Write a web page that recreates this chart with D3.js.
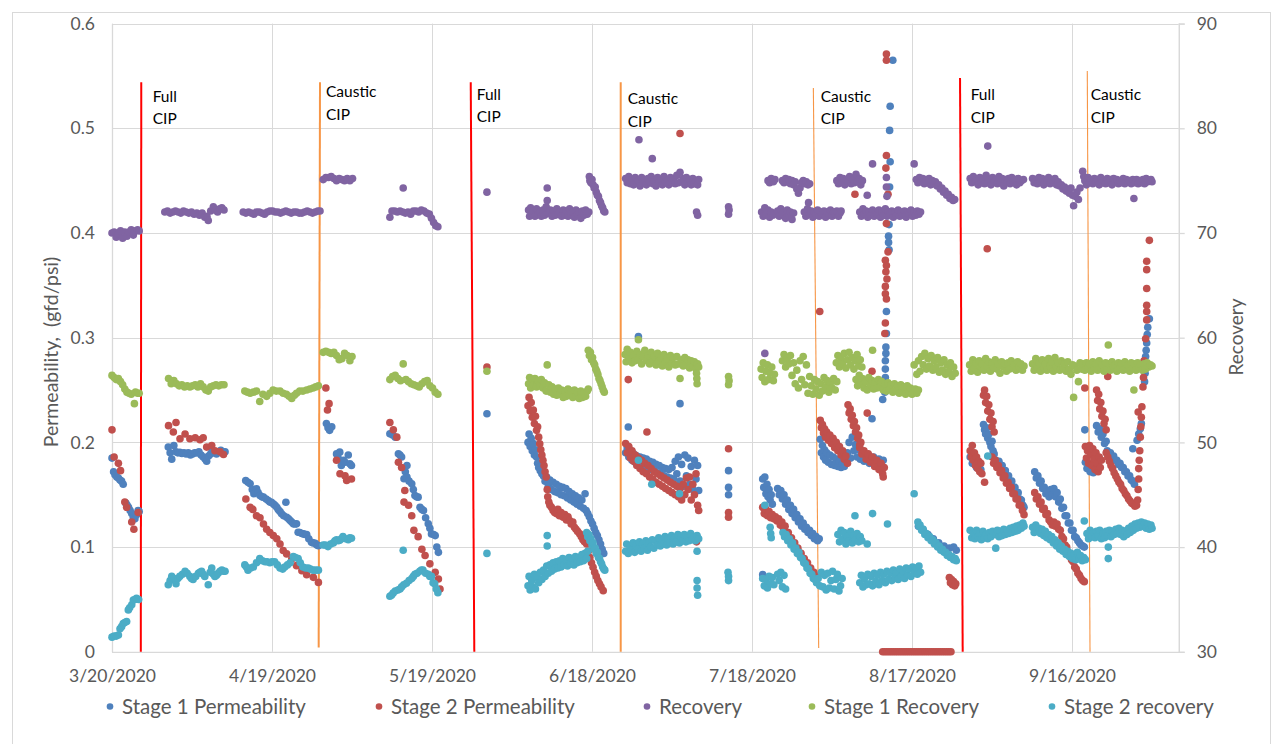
<!DOCTYPE html>
<html><head><meta charset="utf-8">
<script src="https://cdn.jsdelivr.net/npm/d3@7"></script>
<style>
body{margin:0;background:#fff;}
svg{display:block;font-family:Lato,"Open Sans",sans-serif;}
</style></head><body>
<svg id="chart" width="1272" height="744"></svg>
<script>
// ---------------- DATA ----------------
const startDate = "2020-03-20";
const endDate = "2020-10-06";
const xTickLabels = ["3/20/2020","4/19/2020","5/19/2020","6/18/2020","7/18/2020","8/17/2020","9/16/2020"];
const leftTicks = [0,0.1,0.2,0.3,0.4,0.5,0.6];
const rightTicks = [30,40,50,60,70,80,90];
const seriesNames = ["Stage 1 Permeability","Stage 2 Permeability","Recovery","Stage 1 Recovery","Stage 2 recovery"];
const seriesColors = ["#4F81BD","#C0504D","#8064A2","#9BBB59","#4BACC6"];
const leftTitle = "Permeability,  (gfd/psi)";
const rightTitle = "Recovery";

// [days after 3/20/2020, gfd/psi]
const stage1Permeability = [
[0,.185],[.3,.172],[.56,.169],[.9,.167],[1.2,.166],[1.5,.164],[1.8,.163],[2.1,.160],[2.6,.142],[2.85,.140],[3.1,.138],[3.4,.135],[3.7,.132],[4,.1285],[4.3,.127],[4.6,.131],[4.9,.135],[5.1,.134],
[10.55,.1955],[10.9,.190],[11.2,.184],[11.6,.197],[12,.191],[12.35,.190],[12.7,.1905],[13.1,.1895],[13.5,.190],[13.9,.189],[14.3,.190],[14.7,.188],[15.1,.189],[15.5,.190],[15.9,.190],[16.3,.191],[16.7,.188],[17.1,.186],[17.5,.184],[17.75,.182],[18.1,.187],[18.5,.189],[18.8,.192],[19.2,.1905],[19.6,.189],[20,.191],[20.4,.1925],[20.8,.191],[21.2,.191],
[25.07,.1636],[25.5,.162],[25.9,.1605],[26.3,.155],[26.6,.151],[27.1,.1557],[27.4,.152],[27.75,.1493],[28.1,.148],[28.4,.1477],[28.9,.146],[29.3,.1445],[29.6,.143],[29.9,.1429],[30.3,.141],[30.6,.1397],[30.9,.138],[31.2,.1356],[31.5,.134],[31.8,.1318],[32.2,.130],[32.6,.1429],[32.75,.1285],[33.1,.127],[33.4,.1254],[33.7,.124],[34,.1222],[34.3,.122],[34.6,.1222],[34.9,.1142],[35.2,.114],[35.6,.113],[35.9,.1126],[36.2,.112],[36.5,.112],[36.9,.108],[37.4,.1046],[37.7,.104],[38.1,.1037],[38.4,.102],[38.7,.1014],
[40.2,.218],[40.5,.214],[40.8,.2115],[41.2,.215],[42.1,.189],[42.4,.185],[42.7,.1907],[43,.178],[43.4,.183],[43.7,.181],[44.3,.188],[44.6,.1796],[44.9,.178],
[52.1,.2083],[52.6,.207],[53.1,.205],[53.7,.1892],[54,.188],[54.3,.186],[54.75,.1653],[55,.172],[55.3,.178],[55.3,.1668],[55.7,.163],[56.2,.1605],[56.5,.155],[56.8,.1493],[57.1,.148],[57.4,.1477],[57.75,.1381],[58.1,.136],[58.4,.1349],[58.8,.128],[59.3,.1222],[59.6,.118],[59.9,.1126],[60.3,.112],[60.6,.111],[60.9,.100],[61.2,.095],
[70.3,.2274],
[78,.200],[78.2,.208],[78.4,.196],[78.6,.204],[78.8,.192],[79,.199],[79.2,.188],[79.4,.193],[79.6,.186],[79.8,.180],[80,.176],[80.3,.173],[80.6,.170],[80.9,.168],[81.2,.163],[81.5,.167],[81.8,.158],[82.1,.164],[82.4,.155],[82.7,.162],[83,.153],[83.3,.160],[83.6,.152],[83.9,.158],[84.2,.150],[84.5,.157],[84.8,.149],[85.1,.156],[85.4,.147],[85.7,.153],[86,.145],[86.3,.151],[86.6,.143],[86.9,.149],[87.2,.141],[87.5,.147],[87.8,.139],[88.1,.145],[88.4,.137],[88.7,.151],[88.9,.135],[89.2,.132],[89.5,.129],[89.8,.125],[90.1,.122],[90.4,.118],[90.7,.114],[91,.111],[91.3,.107],[91.6,.103],[91.9,.098],[92.2,.094],
[96.8,.2147],[96.3,.190],[96.6,.195],[96.9,.186],[97.2,.192],[97.5,.183],[97.8,.189],[98.1,.181],[98.4,.187],[98.7,.180],[98.7,.301],[99,.186],[99.3,.178],[99.6,.185],[99.9,.177],[100.2,.184],[100.5,.176],[100.8,.182],[101.1,.174],[101.4,.181],[101.7,.173],[102,.179],[102.3,.171],[102.6,.178],[102.9,.170],[103.2,.176],[103.5,.168],[103.8,.175],[104.1,.167],[104.4,.174],[104.7,.166],[105,.176],[105.3,.165],[105.6,.182],[105.9,.170],[106.2,.186],[106.5,.163],[106.5,.237],[106.8,.179],[107.1,.158],[107.4,.188],[107.7,.168],[108,.185],[108.3,.160],[108.6,.177],[108.9,.155],[109.2,.183],[109.5,.165],[109.8,.178],[110,.154],
[115.6,.173],[115.6,.157],[115.6,.150],
[122,.0737],[122,.165],[122.2,.157],[122.4,.167],[122.6,.151],[122.8,.160],[123,.148],[123.2,.155],[123.4,.145],[123.6,.150],[123.8,.141],
[124.8,.156],[125.1,.150],[125.4,.154],[125.7,.146],[126,.150],[126.3,.141],[126.6,.145],[126.9,.136],[127.2,.140],[127.5,.132],[127.8,.136],[128.1,.128],[128.4,.131],[128.7,.124],[129,.127],[129.3,.120],[129.6,.123],[129.9,.117],[130.2,.119],[130.5,.114],[130.8,.116],[131.1,.111],[131.4,.113],[131.7,.108],[132,.110],[132.3,.106],[132.6,.108],
[132.8,.203],[133,.190],[133.2,.197],[133.4,.186],[133.6,.193],[133.8,.183],[134,.190],[134.3,.181],[134.6,.188],[134.9,.179],[135.2,.186],[135.5,.178],[135.8,.184],[136.1,.177],[136.4,.182],[136.7,.176],[137,.180],[137.3,.177],[137.6,.183],[137.9,.190],[138.2,.200],[138.5,.185],[138.8,.205],[139.1,.192],[139.4,.198],[139.7,.186],[140,.193],[140.3,.184],[140.6,.190],[141,.182],[141.5,.188],[142,.180],[142.5,.2226],[142.8,.186],[143.3,.178],[143.8,.184],[144.3,.175],[144.6,.183],
[146.4,.565],[145.9,.521],[145.8,.498],[145.9,.468],[145.8,.444],[145.7,.408],[145.6,.397],[145.6,.391],[145.7,.384],[145.2,.325],[145.2,.304],[145.1,.291],[145.1,.285],[145,.278],[145,.270],[145,.262],[144.9,.255],[144.9,.248],[144.5,.241],
[151.2,.120],[152,.117],[153,.112],[154,.108],[155,.104],[156,.101],[157,.099],[157.8,.100],[158.3,.097],
[160.9,.186],[161.3,.180],[161.7,.184],[162.1,.176],[162.5,.180],[162.9,.174],
[163.4,.217],[163.6,.212],[163.8,.208],[164,.214],[164.2,.204],[164.4,.208],[164.6,.200],[164.8,.196],[165,.201],[165.2,.192],[165.4,.189],
[165.7,.183],[166,.180],[166.3,.182],[166.6,.176],[166.9,.178],[167.2,.172],[167.5,.173],[167.8,.167],[168.1,.168],[168.4,.162],[168.7,.163],[169,.157],[169.3,.157],[169.6,.151],[169.9,.152],[170.2,.146],[170.5,.145],[170.8,.140],[171,.138],
[173,.172],[173.3,.166],[173.6,.168],[173.9,.161],[174.2,.163],[174.5,.156],[174.8,.157],[175.1,.151],[175.4,.153],[175.7,.148],[176,.155],[176.3,.150],[176.6,.156],[176.9,.148],[177.2,.152],[177.5,.143],[177.8,.146],[178.1,.137],[178.4,.138],[178.7,.130],[179,.130],[179.3,.123],[179.6,.123],[179.9,.116],[180.2,.116],[180.5,.110],[180.8,.109],[181.1,.106],[181.4,.104],[181.7,.102],[182,.101],[182.3,.100],[182.4,.212],
[182.5,.181],[182.8,.175],[183.1,.178],[183.4,.172],[183.7,.176],[184,.171],[184.3,.174],
[184.6,.216],[184.9,.210],[185.2,.213],[185.5,.205],[185.8,.208],[186.1,.199],[186.4,.201],
[186.6,.192],[186.9,.189],[187.2,.190],[187.5,.186],[187.8,.187],[188.1,.183],[188.4,.183],[188.7,.179],[189,.180],[189.3,.176],[189.6,.176],[189.9,.172],[190.2,.172],[190.5,.168],[190.8,.168],[191.1,.164],[191.4,.194],[191.4,.163],[191.7,.160],
[192.2,.202],[192.5,.208],[192.8,.213],[193,.218],[193.6,.258],[193.7,.266],[193.8,.274],[193.8,.282],[193.9,.288],[194,.295],[194.1,.303],[194.2,.310],[194.5,.318]
];

const stage2Permeability = [
[0,.212],[.4,.186],[1.2,.180],[1.6,.173],[2.4,.143],[2.75,.138],[3.7,.124],[4.1,.117],[4.9,.133],
[10.6,.216],[12,.219],[11.5,.210],[12.75,.2035],[13.7,.208],[14.6,.2035],[15.6,.2045],[16.5,.2026],[17.1,.2045],[17.75,.1955],[18.7,.197],[19.3,.192],[20.25,.191],[20.9,.1885],
[25.1,.146],[25.9,.138],[26.4,.136],[27.1,.130],[27.75,.128],[28.4,.122],[29,.117],[29.6,.114],[30.25,.111],[30.9,.108],[31.5,.103],[32.1,.0967],[32.75,.0935],[33.7,.0887],[34.6,.0823],[35.6,.0775],[36.5,.0737],[37.75,.0711],[38.7,.0663],
[40.1,.252],[40.7,.237],[40.4,.231],[42.1,.183],[42.75,.170],[43.7,.168],[44,.1636],[44.9,.165],
[52.1,.219],[52.75,.212],[53.4,.205],[53.7,.181],[54.3,.176],[54.9,.154],[54.75,.143],[55.6,.140],[56.2,.130],[56.6,.116],[57.4,.110],[58.1,.098],[58.7,.092],[59.6,.084],[60.6,.076],[61.2,.0696],[61.5,.060],
[70.3,.272],
[78,.235],[78.2,.243],[78.4,.230],[78.6,.238],[78.8,.224],[79,.231],[79.2,.218],[79.4,.225],[79.6,.2115],[79.8,.215],[80,.205],[80.2,.1987],[80.4,.193],[80.6,.188],[80.8,.183],[81,.178],[81.2,.172],[81.4,.167],[81.6,.155],[81.7,.148],[81.9,.143],[82.1,.140],[82.4,.138],[82.7,.135],[83,.133],[83.3,.132],[83.6,.136],[83.9,.130],[84.2,.133],[84.6,.1285],[84.9,.131],[85.2,.126],[85.5,.129],[85.8,.1254],[86.1,.122],[86.4,.124],[86.7,.119],[87,.117],[87.3,.115],[87.7,.1126],[88,.110],[88.3,.107],[88.6,.105],[89,.103],[89.3,.096],[89.6,.090],[89.9,.085],[90.2,.0807],[90.5,.076],[90.8,.072],[91.1,.068],[91.4,.065],[91.7,.062],[92.1,.0584],
[96.3,.199],[96.6,.190],[96.8,.260],[96.9,.196],[97.2,.185],[97.5,.192],[97.8,.182],[98.1,.188],[98.4,.178],[98.7,.185],[99,.175],[99.3,.183],[99.6,.172],[99.9,.180],[100.2,.170],[100.3,.210],[100.5,.178],[100.8,.167],[101.1,.175],[101.4,.165],[101.7,.172],[102,.162],[102.3,.170],[102.6,.160],[102.9,.168],[103.2,.158],[103.5,.166],[103.8,.156],[104.1,.164],[104.4,.154],[104.7,.162],[105,.152],[105.3,.160],[105.6,.150],[105.9,.158],[106.2,.148],[106.5,.156],[106.5,.495],[106.8,.145],[107.1,.160],[107.4,.150],[107.7,.166],[108,.155],[108.3,.167],[108.6,.145],[108.9,.160],[109.2,.150],[109.5,.170],[109.8,.140],[110,.135],[109.6,.105],
[115.6,.194],[115.6,.133],[115.6,.1285],
[122,.138],[122.3,.132],[122.6,.136],[122.9,.130],[123.2,.134],[123.5,.128],[123.8,.131],[124.1,.127],[124.4,.129],[124.7,.125],[125,.127],[125.3,.121],[125.6,.124],[125.9,.118],[126.2,.120],[126.5,.113],[126.8,.114],[127.1,.108],[127.4,.109],[127.7,.103],[128,.104],[128.3,.098],[128.6,.099],[128.9,.093],[129.2,.094],[129.5,.089],[129.8,.089],[130.1,.084],[130.4,.085],[130.7,.080],[131,.080],[131.3,.076],[131.6,.076],[131.9,.072],[132.2,.072],
[132.7,.325],
[132.8,.221],[133,.214],[133.2,.217],[133.4,.209],[133.6,.213],[133.8,.205],[134,.210],[134.3,.202],[134.6,.207],[134.9,.199],[135.2,.204],[135.5,.195],[135.8,.200],[136.1,.192],[136.4,.196],[136.7,.188],[137,.192],[137.3,.184],[137.6,.187],[137.9,.180],
[138,.236],[138.2,.228],[138.4,.232],[138.6,.222],[138.8,.226],[139,.216],[139.2,.220],[139.4,.210],[139.6,.214],[139.8,.204],[140,.207],[140.2,.198],[140.4,.200],
[139.3,.437],[140.2,.195],[140.6,.189],[141,.192],[141.4,.184],[141.8,.189],[142.2,.181],[142.6,.186],[143,.177],[143.4,.183],[143.8,.174],[144.2,.180],[144.5,.170],[144.8,.176],[144.6,.167],[141.6,.228],[142.5,.268],
[145.2,.571],[145.2,.565],[145.2,.474],[145.1,.462],[145.5,.437],[145.2,.409],[145.5,.382],[145,.374],[145.2,.369],[145.1,.363],[145.3,.356],[145,.349],[145,.342],[145.2,.337],[145,.314],[144.9,.304],
[144.5,0],[144.9,0],[145.3,0],[145.7,0],[146.1,0],[146.5,0],[146.9,0],[147.3,0],[147.7,0],[148.1,0],[148.5,0],[148.9,0],[149.3,0],[149.7,0],[150.1,0],[150.5,0],[150.9,0],[151.3,0],[151.7,0],[152.1,0],[152.5,0],[152.9,0],[153.3,0],[153.7,0],[154.1,0],[154.5,0],[154.9,0],[155.3,0],[155.7,0],[156.1,0],[156.5,0],[156.9,0],[157.3,0],
[157,.071],[157.2,.066],[157.4,.069],[157.6,.064],[157.8,.067],[158,.063],[158.2,.065],
[160.9,.192],[161.1,.186],[161.3,.197],[161.5,.183],[161.7,.190],[161.9,.178],[162.1,.186],[162.3,.175],[162.5,.182],[162.7,.172],[162.9,.180],[163.1,.170],[163.6,.162],[164.1,.385],
[163.4,.245],[163.6,.250],[163.8,.238],[164,.244],[164.2,.230],[164.4,.236],[164.6,.222],[164.8,.228],[165,.215],[165.2,.220],[165.4,.210],
[165,.186],[165.3,.180],[165.6,.183],[165.9,.176],[166.2,.178],[166.5,.171],[166.8,.173],[167.1,.166],[167.4,.168],[167.7,.161],[168,.162],[168.3,.156],[168.6,.157],[168.9,.151],[169.2,.151],[169.5,.146],[169.8,.146],[170.1,.140],[170.4,.140],[170.7,.135],[171,.131],
[173,.152],[173.3,.146],[173.6,.148],[173.9,.141],[174.2,.143],[174.5,.136],[174.8,.137],[175.1,.131],[175.4,.132],[175.7,.126],[176,.124],[176.3,.121],[176.6,.124],[176.9,.120],[177.2,.122],[177.5,.117],[177.8,.116],[178.1,.110],[178.4,.108],[178.7,.102],[179,.100],[179.3,.095],[179.6,.093],[179.9,.088],[180.2,.086],[180.5,.081],[180.8,.079],[181.1,.075],[181.4,.073],[181.7,.070],[182,.068],[182.3,.067],[182.4,.252],
[182.5,.196],[182.7,.185],[182.9,.192],[183.1,.180],[183.3,.197],[183.5,.188],[183.7,.178],[183.9,.194],[184.1,.184],[184.3,.174],[184.5,.190],[184.7,.180],[184.9,.172],[185.1,.186],[185.3,.176],[185.5,.183],
[184.6,.250],[184.8,.240],[185,.246],[185.2,.232],[185.4,.238],[185.6,.225],[185.8,.230],[186,.218],[186.2,.222],[186.4,.212],[186.7,.263],
[186.4,.190],[186.7,.186],[187,.182],[187.3,.178],[187.6,.175],[187.9,.171],[188.2,.168],[188.5,.165],[188.8,.162],[189.1,.160],[189.4,.156],[189.7,.154],[190,.151],[190.3,.149],[190.6,.146],[190.9,.144],[191.2,.142],[191.5,.141],[191.8,.139],[192.1,.140],
[192.3,.145],[192.4,.155],[192.5,.165],[192.5,.175],[192.6,.183],[192.7,.192],[192.4,.229],[192.8,.205],[192.9,.215],[193,.224],[193.1,.234],[193.3,.253],[193.4,.262],[193.4,.270],[193.5,.278],[193.8,.299],[194,.317],[194,.325],[194,.331],[194,.347],[194,.365],[194,.373],[194.5,.393]
];

// [days after 3/20/2020, percent]
const recovery = [
[0,70.0],[.4,70.1],[.8,69.6],[1.2,69.9],[1.6,70.2],[2,69.5],[2.4,70.1],[2.8,69.7],[3.2,70.1],[3.6,70.3],[4,69.8],[4.4,70.2],[4.8,70.3],[5.1,70.2],
[9.9,72.0],[10.4,72.1],[10.9,71.9],[11.4,72.0],[11.9,72.1],[12.4,72.0],[12.9,71.9],[13.4,72.1],[13.9,72.0],[14.4,71.9],[14.9,72.0],[15.4,71.8],[15.9,71.9],[16.4,71.7],[16.9,71.9],[17.4,71.5],[17.8,71.6],[18.05,71.2],[18.5,72.1],[19,72.5],[19.4,72.2],[19.8,72.0],[20.2,72.3],[20.6,72.4],[21,72.2],
[24.6,72.0],[25.1,71.9],[25.6,72.0],[26.1,71.9],[26.6,71.8],[27.1,72.0],[27.6,72.0],[28.1,71.9],[28.6,71.8],[29.1,72.0],[29.6,72.1],[30.1,72.1],[30.6,72.0],[31.1,72.0],[31.6,71.9],[32.1,72.0],[32.6,72.1],[33.1,72.0],[33.6,71.9],[34.1,72.0],[34.6,72.0],[35.1,71.9],[35.6,71.9],[36.1,72.0],[36.6,72.1],[37.1,72.0],[37.6,71.9],[38.1,72.0],[38.6,72.1],[39,72.1],
[39.6,75.1],[40.1,75.3],[40.6,75.3],[41.1,75.4],[41.6,75.2],[42.1,75.0],[42.6,75.2],[43.1,75.1],[43.6,75.0],[44.1,75.2],[44.6,75.0],[45.1,75.2],
[54.6,74.3],
[52.1,71.5],[52.5,72.1],[53,72.1],[53.5,72.0],[54,72.1],[54.5,72.0],[55,71.9],[55.5,72.0],[56,71.8],[56.5,72.1],[57,72.1],[57.5,72.0],[58,72.2],[58.5,72.1],[59,71.9],[59.5,71.8],[59.9,71.4],[60.3,71.0],[60.7,70.7],[61.1,70.6],
[70.3,73.9],
[78.1,72.2],[78.3,71.6],[78.5,72.4],[78.8,71.8],[79,72.1],[79.3,71.6],[79.6,72.3],[79.9,71.8],[80.2,72.0],[80.5,71.6],[80.8,72.2],[81.1,71.7],[81.4,72.5],[81.6,73.1],[81.6,74.3],[81.9,71.9],[82.2,72.2],[82.5,71.6],[82.8,72.1],[83.1,71.7],[83.4,72.3],[83.7,71.8],[84,72.0],[84.3,71.6],[84.6,72.2],[84.9,71.7],[85.2,72.1],[85.5,71.6],[85.8,72.3],[86.1,71.8],[86.4,72.0],[86.7,71.5],[87,72.2],[87.3,71.8],[87.6,72.0],[87.9,71.4],[88.2,72.1],[88.5,71.7],[88.8,72.2],[89.1,71.8],[89.4,72.0],
[89.5,75.4],[89.6,75.0],[89.8,74.8],[90,75.1],[90.2,74.6],[90.4,74.3],[90.6,74.4],[90.8,73.9],[91,73.6],[91.2,73.5],[91.4,73.1],[91.6,72.9],[91.8,72.6],[92,72.4],[92.2,72.1],[92.4,72.0],
[96.3,75.2],[96.6,74.8],[96.9,75.4],[97.2,74.7],[97.5,75.1],[97.8,74.6],[98.1,75.3],[98.4,74.8],[98.7,75.0],[99,74.5],[99.3,75.3],[99.6,74.8],[99.9,75.1],[100.2,74.6],[100.5,75.2],[100.8,74.9],[101.1,75.4],[101.4,74.7],[101.7,75.0],[102,74.5],[102.3,75.3],[102.6,74.8],[102.9,75.1],[103.2,74.6],[103.5,75.4],[103.8,74.9],[104.1,75.0],[104.4,74.6],[104.7,75.3],[105,74.8],[105.3,75.2],[105.6,74.7],[105.9,75.5],[106.2,74.8],[106.5,75.8],[106.8,74.9],[107.1,75.2],[107.4,74.6],[107.7,75.3],[108,74.8],[108.3,75.1],[108.6,74.6],[108.9,75.2],[109.2,74.7],[109.5,75.0],[109.8,74.6],[110,75.1],
[98.8,78.9],[101.3,77.1],[109.6,72.0],[109.8,71.7],[115.6,72.5],[115.6,71.8],[115.7,72.2],
[123,75.0],[123.3,74.8],[123.6,75.2],[124,74.9],[124.3,75.1],[125.7,75.0],[126,74.8],[126.3,75.2],[126.6,74.9],[126.9,75.1],[127.2,74.7],[127.5,75.0],[127.8,74.6],[128.1,74.9],[128.4,74.2],[128.7,73.8],[129,74.3],[129.3,74.8],[129.6,75.0],[129.9,74.7],[130.2,74.9],[130.5,74.6],[130.8,74.7],
[121.8,72.0],[122.1,71.6],[122.4,72.4],[122.7,71.8],[123,72.2],[123.3,71.5],[123.6,72.0],[123.9,71.7],[124.8,72.1],[125.1,71.6],[125.4,72.3],[125.7,71.8],[126,72.0],[126.3,71.4],[126.6,72.2],[126.9,71.7],[127.2,72.0],[127.5,71.3],[127.8,71.9],[129.8,72.0],[130.1,71.6],[130.4,72.3],[130.6,72.9],[130.8,71.8],[131.1,72.1],[131.4,71.5],[131.7,72.0],[132,71.7],[132.3,72.2],[132.6,71.6],[132.9,72.0],[133.2,71.8],[133.5,72.1],[133.8,71.5],[134.1,72.0],[134.4,71.7],[134.7,72.2],[135,71.6],[135.3,72.0],[135.6,71.8],[135.9,72.1],[136.2,71.6],[136.5,71.9],[136.7,72.1],
[122.4,58.5],
[135.9,75.0],[136.2,74.7],[136.5,75.3],[136.8,74.8],[137.1,75.2],[137.4,74.6],[137.7,75.1],[138,74.9],[138.3,75.4],[138.6,74.7],[138.9,75.1],[139.2,74.8],[139.5,75.6],[139.8,74.9],[140.1,75.2],[140.4,74.6],[140.7,75.0],
[141.6,73.6],[142.6,76.6],
[140.2,72.0],[140.5,71.6],[140.8,72.3],[141.1,71.8],[141.4,72.1],[141.7,71.5],[142,72.0],[142.3,71.7],[142.6,72.2],[142.9,71.6],[143.2,72.0],[143.5,71.8],[143.8,72.2],[144.1,71.5],[144.4,72.0],[144.7,71.7],[145,72.3],[145.3,71.6],[145.6,72.0],[145.9,71.8],[146.2,72.1],[146.5,71.5],[146.8,72.0],[147.1,71.7],[147.4,72.2],[147.7,71.6],[148,72.0],[148.3,71.7],[148.6,72.1],[148.9,71.5],[149.2,72.0],[149.5,71.8],[149.8,72.2],[150.1,71.6],[150.4,72.0],[150.7,71.7],[151,72.1],[151.3,71.8],[151.6,72.0],
[145.2,75.3],[145.2,74.4],[145.3,73.5],[150.4,76.6],
[150.8,75.1],[151.1,74.8],[151.4,75.3],[151.7,74.9],[152,75.2],[152.3,74.7],[152.6,75.1],[152.9,74.8],[153.2,75.2],[153.5,74.6],[153.8,75.0],[154.1,74.7],[154.4,74.9],[154.7,74.5],[155,74.6],[155.3,74.2],[155.6,74.3],[155.9,73.9],[156.2,74.0],[156.5,73.6],[156.8,73.7],[157.1,73.3],[157.4,73.4],[157.7,73.1],[158,73.2],
[160.9,75.2],[161.2,74.8],[161.5,75.4],[161.8,74.9],[162.1,75.1],[162.4,74.6],[162.7,75.3],[163,74.8],[163.3,75.2],[163.6,74.7],[163.9,75.5],[164.2,74.8],[164.5,75.1],[164.8,74.6],[165.1,75.3],[165.4,74.9],[165.7,75.1],[166,74.7],[166.3,75.4],[166.6,74.8],[166.9,75.2],[167.2,74.5],[167.5,75.1],[167.8,74.8],[168.1,75.2],[168.4,74.7],[168.7,75.3],[169,74.9],[169.3,75.1],[169.6,74.6],[169.9,75.2],[170.2,74.8],[170.5,75.0],[170.9,75.1],
[164.2,78.3],
[172.6,75.2],[172.9,74.8],[173.2,75.1],[173.5,74.7],[173.8,75.3],[174.1,74.9],[174.4,75.2],[174.7,74.6],[175,75.1],[175.3,74.8],[175.6,75.3],[175.9,74.7],[176.2,75.1],[176.5,74.9],[176.8,75.2],[177.1,74.6],[177.4,74.9],[177.7,74.5],[178,74.6],[178.3,74.2],[178.6,74.4],[178.9,74.0],[179.2,74.1],[179.5,73.8],[179.8,74.3],[180.1,73.6],[180.3,72.6],[180.6,73.5],[180.9,73.9],[181.2,73.2],[181.5,74.3],
[182,75.9],[182.2,75.4],
[182.4,75.0],[182.7,74.6],[183,75.3],[183.3,74.8],[183.6,75.1],[183.9,74.7],[184.2,75.2],[184.5,74.9],[184.8,75.1],[185.1,74.6],[185.4,75.3],[185.7,74.8],[186,75.0],[186.3,74.7],[186.6,75.2],[186.9,74.8],[187.2,75.1],[187.5,74.6],[187.8,75.2],[188.1,74.9],[188.4,75.1],[188.7,74.7],[189,75.0],[189.3,74.8],[189.6,75.2],[189.9,74.7],[190.2,75.1],[190.5,74.9],[190.8,75.0],[191.1,74.7],[191.6,73.3],[191.4,75.1],[191.8,74.8],[192.1,75.1],[192.4,74.7],[192.7,75.0],[193,74.8],[193.3,75.1],[193.6,74.7],[193.9,75.2],[194.2,74.9],[194.5,75.0],[194.8,75.1],[195,74.9]
];

const stage1Recovery = [
[0,56.4],[.4,56.2],[.8,56.0],[1.2,56.1],[1.6,55.8],[2,55.5],[2.4,55.1],[2.8,54.8],[3.2,54.7],[3.6,54.6],[4.2,53.7],[4.4,54.8],[4.8,54.7],[5.1,54.7],
[10.6,56.1],[11.1,55.6],[11.6,55.9],[12.1,55.6],[12.6,55.4],[13.1,55.5],[13.6,55.3],[14.1,55.4],[14.6,55.3],[15.1,55.4],[15.6,55.5],[16.1,55.3],[16.6,55.6],[17.1,55.3],[17.6,55.0],[18.05,54.9],[18.5,55.3],[19,55.4],[19.5,55.5],[20,55.4],[20.5,55.5],[21,55.5],
[24.9,54.9],[25.4,54.8],[25.9,54.7],[26.5,54.8],[27.1,54.9],[27.7,53.9],[28.3,54.6],[29,54.4],[29.6,54.7],[30.2,55.0],[30.8,54.9],[31.5,54.9],[32.1,54.7],[32.7,54.6],[33.2,54.4],[33.7,54.2],[34.2,54.5],[34.6,54.7],[35.2,54.9],[35.8,54.9],[36.5,55.0],[37.1,55.1],[37.7,55.2],[38.2,55.3],[38.7,55.4],
[39.6,58.6],[40.1,58.7],[40.6,58.6],[41.1,58.5],[41.6,58.6],[42.1,58.3],[42.6,57.9],[43.1,58.0],[43.6,58.5],[44.1,58.3],[44.6,57.8],[45,58.2],
[52.1,56.0],[52.6,56.3],[53.1,56.4],[53.6,56.1],[54.1,55.9],[54.6,57.5],[55.1,56.0],[55.6,55.8],[56.1,55.6],[56.6,55.5],[57.1,55.4],[57.6,55.3],[58.1,55.6],[58.6,55.8],[59.1,55.9],[59.6,55.4],[60.1,55.2],[60.6,54.8],[61.1,54.6],
[70.3,56.8],
[78.1,55.6],[78.3,56.2],[78.5,55.2],[78.8,56.0],[79,55.5],[79.3,56.1],[79.6,55.3],[79.9,55.9],[80.2,55.4],[80.5,56.0],[80.8,55.2],[81.1,55.7],[81.4,54.9],[81.6,57.4],[81.9,55.5],[82.2,54.8],[82.5,55.3],[82.8,54.6],[83.1,55.1],[83.4,54.5],[83.7,55.2],[84,54.6],[84.3,55.0],[84.6,54.3],[84.9,54.9],[85.2,54.4],[85.5,55.1],[85.8,54.5],[86.1,54.9],[86.4,54.3],[86.7,55.0],[87,54.4],[87.3,54.8],[87.6,54.2],[87.9,54.9],[88.2,54.3],[88.5,54.7],[88.8,54.4],[89.1,54.9],[89.3,55.1],
[89.3,58.8],[89.5,58.3],[89.7,58.6],[89.9,57.9],[90.1,58.1],[90.3,57.6],[90.5,57.4],[90.7,57.0],[90.9,56.8],[91.1,56.5],[91.3,56.1],[91.5,55.9],[91.7,55.6],[91.9,55.3],[92.1,55.0],[92.3,54.8],
[96.2,58.4],[96.4,57.7],[96.6,58.9],[96.9,58.1],[97.2,58.6],[97.5,57.6],[97.8,58.3],[98.1,57.8],[98.4,58.7],[98.7,59.8],[98.7,57.9],[99,58.4],[99.3,57.5],[99.6,58.2],[99.9,58.8],[100.2,57.8],[100.5,58.3],[100.8,57.5],[101.1,58.6],[101.4,57.9],[101.7,58.2],[102,57.4],[102.3,58.5],[102.6,57.8],[102.9,58.1],[103.2,57.3],[103.5,58.4],[103.8,57.7],[104.1,58.0],[104.4,57.2],[104.7,58.3],[105,57.6],[105.3,58.1],[105.6,57.4],[105.9,58.2],[106.2,57.5],[106.5,56.1],[106.8,57.9],[107.1,57.3],[107.4,58.1],[107.7,57.4],[108,57.9],[108.3,57.1],[108.6,57.8],[108.9,57.3],[109.2,57.7],[109.5,57.0],[109.8,57.5],[110,57.2],
[109.6,56.6],[109.7,55.6],[109.65,56.1],[115.6,56.3],[115.6,55.5],[115.7,55.9],
[121.7,57.0],[121.9,56.2],[122.1,57.6],[122.4,55.8],[122.6,56.8],[122.9,57.4],[123.1,56.0],[123.4,56.6],[123.7,57.2],[124,55.9],[124.2,56.5],
[125.7,57.8],[126,58.4],[126.3,57.2],[126.6,58.0],[126.9,57.5],[127.2,58.3],[127.5,56.4],[127.8,57.6],[128.1,55.6],[128.4,56.9],[128.7,55.2],[129,57.8],[129.3,56.0],[129.6,58.2],[129.9,55.5],[130.2,57.4],[130.5,54.7],[130.8,56.3],[131.1,55.4],[131.4,54.6],[131.7,56.0],[132,55.1],[132.3,55.8],[132.6,54.5],[132.9,55.6],[133.2,54.9],[133.5,56.2],[133.8,55.3],[134.1,55.9],[134.4,54.8],[134.7,55.7],[135,55.2],[135.3,56.1],[135.6,55.0],[135.9,55.8],
[135.8,57.6],[136.1,58.3],[136.4,57.2],[136.7,58.0],[137,57.5],[137.3,58.5],[137.6,57.1],[137.9,57.9],[138.2,58.6],[138.5,57.4],[138.8,58.1],[139.1,57.0],[139.4,57.8],[139.7,58.4],[140,57.3],[140.3,57.9],[140.6,57.2],
[139.5,56.0],[139.8,55.4],[140.1,56.4],[140.4,55.6],[140.7,56.1],[141,55.2],[141.3,55.8],[141.6,55.0],[141.9,56.2],[142.2,55.5],[142.5,55.9],[142.6,58.8],[142.8,55.1],[143.1,55.7],[143.4,55.2],[143.7,56.0],[144,55.3],[144.3,55.8],[144.6,55.0],[144.9,55.6],[145.2,54.9],[145.5,55.7],[145.8,55.1],[146.1,55.5],[146.4,54.8],[146.7,55.6],[147,55.0],[147.3,55.4],[147.6,54.7],[147.9,55.5],[148.2,54.9],[148.5,55.3],[148.8,54.6],[149.1,55.4],[149.4,54.8],[149.7,55.2],[150,54.6],[150.4,57.4],[150.6,55.1],[150.9,54.7],[151.2,55.0],
[150.9,56.5],[151.2,57.8],[151.5,56.8],[151.8,58.2],[152.1,57.4],[152.4,58.5],[152.7,57.0],[153,58.0],[153.3,57.3],[153.6,58.3],[153.9,56.9],[154.2,57.8],[154.5,57.2],[154.8,58.1],[155.1,56.7],[155.4,57.6],[155.7,56.9],[156,57.9],[156.3,56.5],[156.6,57.4],[156.9,56.8],[157.2,57.6],[157.5,56.3],[157.8,57.2],[158.1,56.6],
[160.8,57.4],[161.1,56.8],[161.4,57.9],[161.7,57.1],[162,57.6],[162.3,56.7],[162.6,57.8],[162.9,57.2],[163.2,57.5],[163.5,56.9],[163.8,58.0],[164.1,57.3],[164.4,57.7],[164.7,56.8],[165,57.6],[165.3,57.1],[165.6,57.9],[165.9,57.0],[166.2,57.5],[166.5,56.6],[166.8,57.7],[167.1,57.2],[167.4,57.5],[167.7,56.8],[168,57.6],[168.3,57.0],[168.6,57.8],[168.9,57.1],[169.2,57.4],[169.5,56.9],[169.8,57.7],[170.1,57.2],[170.4,57.5],[170.7,56.9],[171,57.3],
[172.6,57.5],[172.9,56.9],[173.2,58.0],[173.5,57.2],[173.8,57.6],[174.1,56.8],[174.4,57.9],[174.7,57.1],[175,57.5],[175.3,56.9],[175.6,58.0],[175.9,57.3],[176.2,57.7],[176.5,56.8],[176.8,58.1],[177.1,57.2],[177.4,57.6],[177.7,56.9],[178,57.8],[178.3,57.1],[178.6,57.5],[178.9,56.8],[179.2,57.7],[179.5,57.0],[179.8,56.5],[180.1,57.4],[180.3,54.3],[180.6,57.3],[180.9,56.9],[181.2,55.8],[181.5,57.6],[181.8,57.0],[182.1,57.5],[182.4,56.9],[182.7,57.6],[183,57.1],[183.3,57.5],[183.6,56.8],[183.9,57.7],[184.2,57.2],[184.5,57.5],[184.8,56.9],[185.1,57.8],[185.4,57.1],[185.7,57.4],[186,56.8],[186.3,57.6],[186.8,59.3],[186.6,57.0],[186.9,57.5],[187.2,56.9],[187.5,57.7],[187.8,57.2],[188.1,57.4],[188.4,56.8],[188.7,57.6],[189,57.0],[189.3,57.5],[189.6,56.9],[189.9,57.7],[190.2,57.1],[190.5,57.4],[190.8,56.8],[191.1,57.6],[191.6,55.0],[191.4,57.1],[191.7,57.5],[192,56.9],[192.3,57.6],[192.6,57.2],[192.9,57.4],[193.2,56.9],[193.5,57.5],[193.8,57.0],[194.1,57.6],[194.4,57.2],[194.7,57.4],[195,57.3]
];

const stage2Recovery = [
[0,31.4],[.4,31.5],[.8,31.5],[1.2,31.6],[1.5,32.2],[1.8,32.4],[2.1,32.7],[2.4,32.8],[2.75,32.9],[3.06,34.0],[3.3,34.2],[3.7,34.5],[4,34.95],[4.3,35.0],[4.6,35.1],[5,35.0],
[10.55,36.4],[10.9,36.8],[11.2,37.2],[11.6,37.0],[12,36.5],[12.35,37.0],[12.7,37.2],[13.2,37.4],[13.7,37.7],[14.1,37.5],[14.6,37.2],[14.9,37.0],[15.2,36.9],[15.7,37.2],[16.2,37.5],[16.5,37.6],[16.8,37.7],[17.1,37.4],[17.4,37.2],[18.05,36.4],[18.4,37.6],[18.7,38.0],[19,37.4],[19.3,37.2],[19.6,37.3],[19.9,37.5],[20.25,37.7],[20.6,37.8],[20.9,37.7],[21.2,37.7],
[24.9,38.3],[25.2,38.1],[25.5,37.8],[26,38.0],[26.5,38.1],[27.1,38.5],[27.7,38.9],[28.2,38.7],[28.7,38.6],[29.1,38.6],[29.6,38.5],[30,38.6],[30.5,38.6],[31,38.3],[31.5,38.0],[32,37.9],[32.4,38.1],[32.9,38.3],[33.4,38.5],[34,39.1],[34.4,39.0],[34.9,38.9],[35.3,38.5],[35.8,38.1],[36.3,38.0],[36.8,38.0],[37.2,37.9],[37.7,37.8],[38.2,37.8],[38.7,37.8],
[39.6,40.2],[40,40.2],[40.5,40.05],[41,40.3],[41.5,40.4],[41.8,40.6],[42.1,40.7],[42.4,40.6],[42.7,40.65],[43,40.8],[43.3,41.0],[43.8,40.8],[44.3,40.7],[44.6,40.9],[44.9,40.85],
[52.1,35.3],[52.4,35.4],[52.7,35.6],[53.1,35.8],[53.6,35.9],[54,36.0],[54.3,36.2],[54.7,36.4],[55.2,36.55],[55.7,36.8],[56.2,37.0],[56.5,37.2],[56.8,37.4],[57.2,37.5],[57.7,37.7],[58,37.8],[58.3,37.8],[58.8,37.5],[59.3,37.4],[59.6,37.2],[59.9,37.2],[60.2,36.6],[60.5,36.5],[60.8,36.0],[61.1,35.65],
[54.6,39.7],[70.3,39.4],
[78,36.3],[78.2,37.2],[78.4,35.9],[78.7,36.8],[78.9,36.2],[79.2,37.4],[79.4,36.0],[79.7,37.1],[80,36.6],[80.3,37.6],[80.6,36.9],[80.9,37.8],[81.2,37.2],[81.5,38.2],[81.6,41.1],[81.6,40.1],[81.8,37.5],[82.1,38.3],[82.4,37.7],[82.7,38.5],[83,37.9],[83.3,38.6],[83.6,38.0],[83.9,38.7],[84.2,38.1],[84.5,38.9],[84.8,38.3],[85.1,38.8],[85.4,38.2],[85.7,39.0],[86,38.4],[86.3,38.9],[86.6,38.3],[86.9,39.1],[87.2,38.5],[87.5,39.0],[87.8,38.6],[88.1,39.3],[88.4,38.7],[88.7,39.4],[89,38.9],[89.2,39.6],
[89,41.4],[89.2,41.0],[89.4,41.2],[89.6,40.6],[89.8,40.8],[90,40.2],[90.2,40.4],[90.4,39.8],[90.6,39.9],[90.8,39.4],[91,39.5],[91.2,39.0],[91.4,38.9],[91.6,38.6],[91.8,38.4],[92,38.1],[92.2,37.9],[92.4,37.8],
[96.3,39.6],[96.5,40.3],[96.8,39.4],[97.1,40.1],[97.4,39.7],[97.7,40.4],[98,39.5],[98.3,40.2],[98.6,39.8],[98.7,48.3],[98.9,40.5],[99.2,39.6],[99.5,40.3],[99.8,39.9],[100.1,40.6],[100.4,39.7],[100.7,40.4],[101,40.0],[101.2,46.0],[101.3,40.7],[101.6,39.9],[101.9,40.6],[102.2,40.2],[102.5,40.9],[102.8,40.1],[103.1,40.7],[103.4,40.3],[103.7,41.0],[104,40.2],[104.3,40.8],[104.6,40.4],[104.9,41.1],[105.2,40.3],[105.5,40.9],[105.8,40.5],[106.1,41.2],[106.4,45.1],[106.4,40.4],[106.7,41.0],[107,40.6],[107.3,41.2],[107.6,40.5],[107.9,41.0],[108.2,40.6],[108.5,41.3],[108.8,40.7],[109.1,41.0],[109.4,40.6],[109.7,41.1],[110,40.8],
[109.7,39.6],[109.7,36.8],[109.8,35.4],[109.7,36.1],[115.5,37.6],[115.6,36.8],[115.6,37.2],
[122,37.0],[122.3,36.3],[122.4,44.0],[122.6,36.9],[122.9,36.1],[123.2,37.2],[123.4,41.9],[123.5,41.3],[123.6,40.9],[123.5,36.5],[123.8,37.1],[124.1,36.4],
[124.8,37.4],[125.1,36.8],[125.4,37.6],[125.7,36.2],[126,37.3],[126.3,36.0],
[125.8,41.4],[126.1,41.0],[126.4,41.2],[126.7,40.6],[127,40.8],[127.3,40.2],[127.6,40.4],[127.9,39.8],[128.2,39.9],[128.5,39.4],[128.8,39.5],[129.1,39.0],[129.4,38.9],[129.7,38.5],[130,38.4],[130.3,38.0],[130.6,37.9],[130.9,37.5],[131.2,37.4],[131.5,37.0],[131.8,36.9],[132.1,36.6],[132.4,37.0],[132.7,36.3],
[133,37.6],[133.3,36.2],[133.6,37.3],[133.9,35.9],[134.2,37.5],[134.5,36.1],[134.8,36.8],[135.1,37.7],[135.4,36.0],[135.7,36.9],[136,37.4],[136.3,35.8],[136.6,36.3],[136.9,37.0],
[136.1,41.2],[136.4,40.5],[136.7,41.6],[137,40.8],[137.3,41.4],[137.6,40.3],[137.9,41.0],[138.2,40.6],[138.5,41.5],[138.8,40.4],[139.1,41.1],[139.4,40.7],[139.7,41.3],[140,40.5],[140.3,41.0],[140.6,40.6],
[139.3,43.0],[142.6,43.2],[145.4,42.2],[141.6,40.3],
[140.2,36.6],[140.5,37.3],[140.8,36.2],[141.1,37.0],[141.4,36.4],[141.7,37.4],[142,36.5],[142.3,37.2],[142.6,36.3],[142.9,37.5],[143.2,36.7],[143.5,37.3],[143.8,36.4],[144.1,37.6],[144.4,36.8],[144.7,37.4],[145,36.6],[145.3,37.7],[145.6,36.9],[145.9,37.5],[146.2,36.8],[146.5,37.8],[146.8,37.1],[147.1,37.6],[147.4,36.9],[147.7,37.9],[148,37.2],[148.3,37.7],[148.6,37.0],[148.9,38.0],[149.2,37.3],[149.5,37.9],[149.8,37.2],[150.1,38.1],[150.4,37.5],[150.7,38.0],[151,37.4],[151.3,38.2],[151.6,37.6],
[150.4,45.1],
[151.1,42.4],[151.3,42.0],[151.5,42.1],[151.8,41.6],[152.1,41.7],[152.4,41.2],[152.7,41.3],[153,40.9],[153.3,41.0],[153.6,40.6],[153.9,40.7],[154.2,40.3],[154.5,40.4],[154.8,40.0],[155.1,40.1],[155.4,39.7],[155.7,39.8],[156,39.5],[156.3,39.5],[156.6,39.2],[156.9,39.3],[157.2,39.0],[157.5,39.1],[157.8,38.8],[158.1,38.9],[158.3,38.7],
[160.9,41.6],[161.2,40.9],[161.5,41.4],[161.8,40.8],[162.1,41.6],[162.4,41.0],[162.7,41.3],[163,40.7],[163.3,41.5],[163.6,40.9],[163.9,41.2],[164.2,48.7],[164.2,40.8],[164.5,41.4],[164.8,41.0],[165.1,41.5],[165.7,39.9],[165.7,41.2],[166,41.6],[166.3,41.0],[166.6,41.5],[166.9,41.1],[167.2,41.7],[167.5,41.2],[167.8,41.6],[168.1,41.3],[168.4,41.8],[168.7,41.4],[169,41.9],[169.3,41.5],[169.6,42.0],[169.9,41.6],[170.2,42.1],[170.5,41.8],[170.8,42.3],[171,42.0],
[172.6,41.9],[172.9,41.4],[173.2,42.1],[173.5,41.5],[173.8,41.8],[174.1,41.3],[174.4,41.7],[174.7,41.1],[175,41.5],[175.3,40.9],[175.6,41.2],[175.9,40.7],[176.2,41.0],[176.5,40.4],[176.8,40.7],[177.1,40.1],[177.4,40.4],[177.7,39.8],[178,40.1],[178.3,39.6],[178.6,39.8],[178.9,39.3],[179.2,39.6],[179.5,39.1],[179.8,39.4],[180.1,38.9],[180.4,39.3],[180.7,38.8],[181,39.5],[181.3,38.9],[181.6,39.2],[181.9,38.7],[182.2,39.0],[182.5,38.8],
[182.3,42.5],
[182.8,41.3],[183.1,40.8],[183.4,41.6],[183.7,41.0],[184,41.4],[184.3,40.9],[184.6,41.5],[184.9,41.1],[185.2,41.6],[185.5,40.8],[185.8,41.3],[186.1,40.9],[186.4,41.5],[186.7,41.1],[186.8,40.0],[186.8,38.9],[187,41.6],[187.3,41.0],[187.6,41.5],[187.9,41.2],[188.2,41.7],[188.5,41.3],[188.8,41.8],[189.1,41.2],[189.4,41.6],[189.7,41.0],[190,41.5],[190.3,41.2],[190.6,41.8],[190.9,41.4],[191.2,42.0],[191.5,41.6],[191.8,42.2],[192.1,41.8],[192.4,42.3],[192.7,41.9],[193,42.4],[193.3,42.0],[193.6,42.3],[193.9,41.8],[194.2,42.2],[194.5,41.7],[194.8,42.1],[195,41.8]
];

// CIP events: [label line 1, label line 2, kind, day at top, day at bottom, value at top, value at bottom]
const cipEvents = [
["Full","CIP","full",5.49,5.40,0.544,0],
["Caustic","CIP","caustic",39.0,38.75,0.544,0.004],
["Full","CIP","full",67.26,67.93,0.544,0],
["Caustic","CIP","caustic",95.38,95.38,0.544,0],
["Caustic","CIP","causticThin",131.5,132.5,0.5384,0.0036],
["Full","CIP","full",159.0,159.5,0.548,0],
["Caustic","CIP","causticThin",182.86,183.37,0.5547,0]
];
// label anchor for each event: [day, value] (first line baseline)
const cipLabelAnchors = [[7.63,0.5255],[40.12,0.5298],[68.38,0.5274],[96.69,0.5231],[132.88,0.5255],[161.0,0.5269],[183.5,0.5269]];

// ---------------- LAYOUT / STYLE ----------------
const plot = {left:112, right:1178.7, top:23.6, bottom:651.8};
const gridColor = "#d9d9d9", textColor = "#595959";
const lineStyles = {
  full:{color:"#FF0000", width:2},
  caustic:{color:"#F79646", width:2},
  causticThin:{color:"#F79646", width:1.1}
};

const svg = d3.select("#chart");
const parse = d3.timeParse("%Y-%m-%d");
const t0 = parse(startDate), t1 = parse(endDate);
const toDate = d => new Date(t0.getTime() + d*864e5);

const x = d3.scaleTime().domain([t0,t1]).range([plot.left, plot.right]);
const yL = d3.scaleLinear().domain([0,0.6]).range([plot.bottom, plot.top]);
const yR = d3.scaleLinear().domain([30,90]).range([plot.bottom, plot.top]);

// chart border
svg.append("rect").attr("x",12.5).attr("y",12.5).attr("width",1258).attr("height",745)
  .attr("fill","none").attr("stroke","#d9d9d9").attr("stroke-width",1);

// gridlines
const xTickValues = xTickLabels.map(d3.timeParse("%m/%d/%Y"));
const g = svg.append("g");
g.selectAll(".hg").data(leftTicks).join("line")
  .attr("x1",plot.left).attr("x2",plot.right)
  .attr("y1",d=>Math.round(yL(d))+0.5).attr("y2",d=>Math.round(yL(d))+0.5)
  .attr("stroke",gridColor).attr("stroke-width",1);
g.selectAll(".vg").data(xTickValues.concat([t1])).join("line")
  .attr("x1",d=>Math.round(x(d))+0.5).attr("x2",d=>Math.round(x(d))+0.5)
  .attr("y1",plot.top).attr("y2",plot.bottom)
  .attr("stroke",gridColor).attr("stroke-width",1);

// axes
const fmtL = d => d===0 ? "0" : d3.format(".1f")(d);
const axL = svg.append("g").attr("transform",`translate(${plot.left},0)`)
  .call(d3.axisLeft(yL).tickValues(leftTicks).tickFormat(fmtL).tickSize(0).tickPadding(17));
const axR = svg.append("g").attr("transform",`translate(${plot.right},0)`)
  .call(d3.axisRight(yR).tickValues(rightTicks).tickSize(6).tickPadding(12));
const axB = svg.append("g").attr("transform",`translate(0,${plot.bottom})`)
  .call(d3.axisBottom(x).tickValues(xTickValues).tickFormat(d3.timeFormat("%-m/%-d/%Y")).tickSize(0).tickPadding(14));
[axL,axR,axB].forEach(a=>{
  a.select(".domain").attr("stroke",gridColor).attr("stroke-width",1.3);
  a.selectAll(".tick line").attr("stroke",gridColor).attr("stroke-width",1.3);
  a.selectAll("text").attr("fill",textColor).attr("font-size",17.5).attr("font-family","Lato");
});
axB.selectAll("text").attr("dy","0.95em");

// axis titles
svg.append("text").attr("transform",`translate(58,352) rotate(-90)`)
  .attr("text-anchor","middle").attr("fill",textColor).attr("font-size",19.5).style("white-space","pre").text(leftTitle);
svg.append("text").attr("transform",`translate(1243,337) rotate(-90)`)
  .attr("text-anchor","middle").attr("fill",textColor).attr("font-size",19).text(rightTitle);

// CIP lines
svg.append("g").selectAll("line").data(cipEvents).join("line")
  .attr("x1",d=>x(toDate(d[3]))).attr("x2",d=>x(toDate(d[4])))
  .attr("y1",d=>yL(d[5])).attr("y2",d=>yL(d[6]))
  .attr("stroke",d=>lineStyles[d[2]].color).attr("stroke-width",d=>lineStyles[d[2]].width);

// series points
const series = [
  {data:stage1Permeability, y:yL},
  {data:stage2Permeability, y:yL},
  {data:recovery, y:yR},
  {data:stage1Recovery, y:yR},
  {data:stage2Recovery, y:yR}
];
series.forEach((s,i)=>{
  svg.append("g").selectAll("circle").data(s.data).join("circle")
    .attr("cx",d=>x(toDate(d[0]))).attr("cy",d=>s.y(d[1])).attr("r",3.8)
    .attr("fill",seriesColors[i]);
});

// CIP labels
const lab = svg.append("g").attr("font-size",15.5).attr("fill","#000");
cipEvents.forEach((e,i)=>{
  const a = cipLabelAnchors[i];
  const t = lab.append("text").attr("x",x(toDate(a[0]))).attr("y",yL(a[1]));
  t.append("tspan").text(e[0]);
  t.append("tspan").attr("x",x(toDate(a[0]))).attr("dy",22.5).text(e[1]);
});

// legend
const legendTextX = [122,391,659,824,1064];
const leg = svg.append("g");
seriesNames.forEach((n,i)=>{
  leg.append("circle").attr("cx",legendTextX[i]-12).attr("cy",706.5).attr("r",3.3).attr("fill",seriesColors[i]);
  leg.append("text").attr("x",legendTextX[i]).attr("y",714).attr("font-size",20.5).attr("fill",textColor).text(n);
});
</script>
</body></html>
